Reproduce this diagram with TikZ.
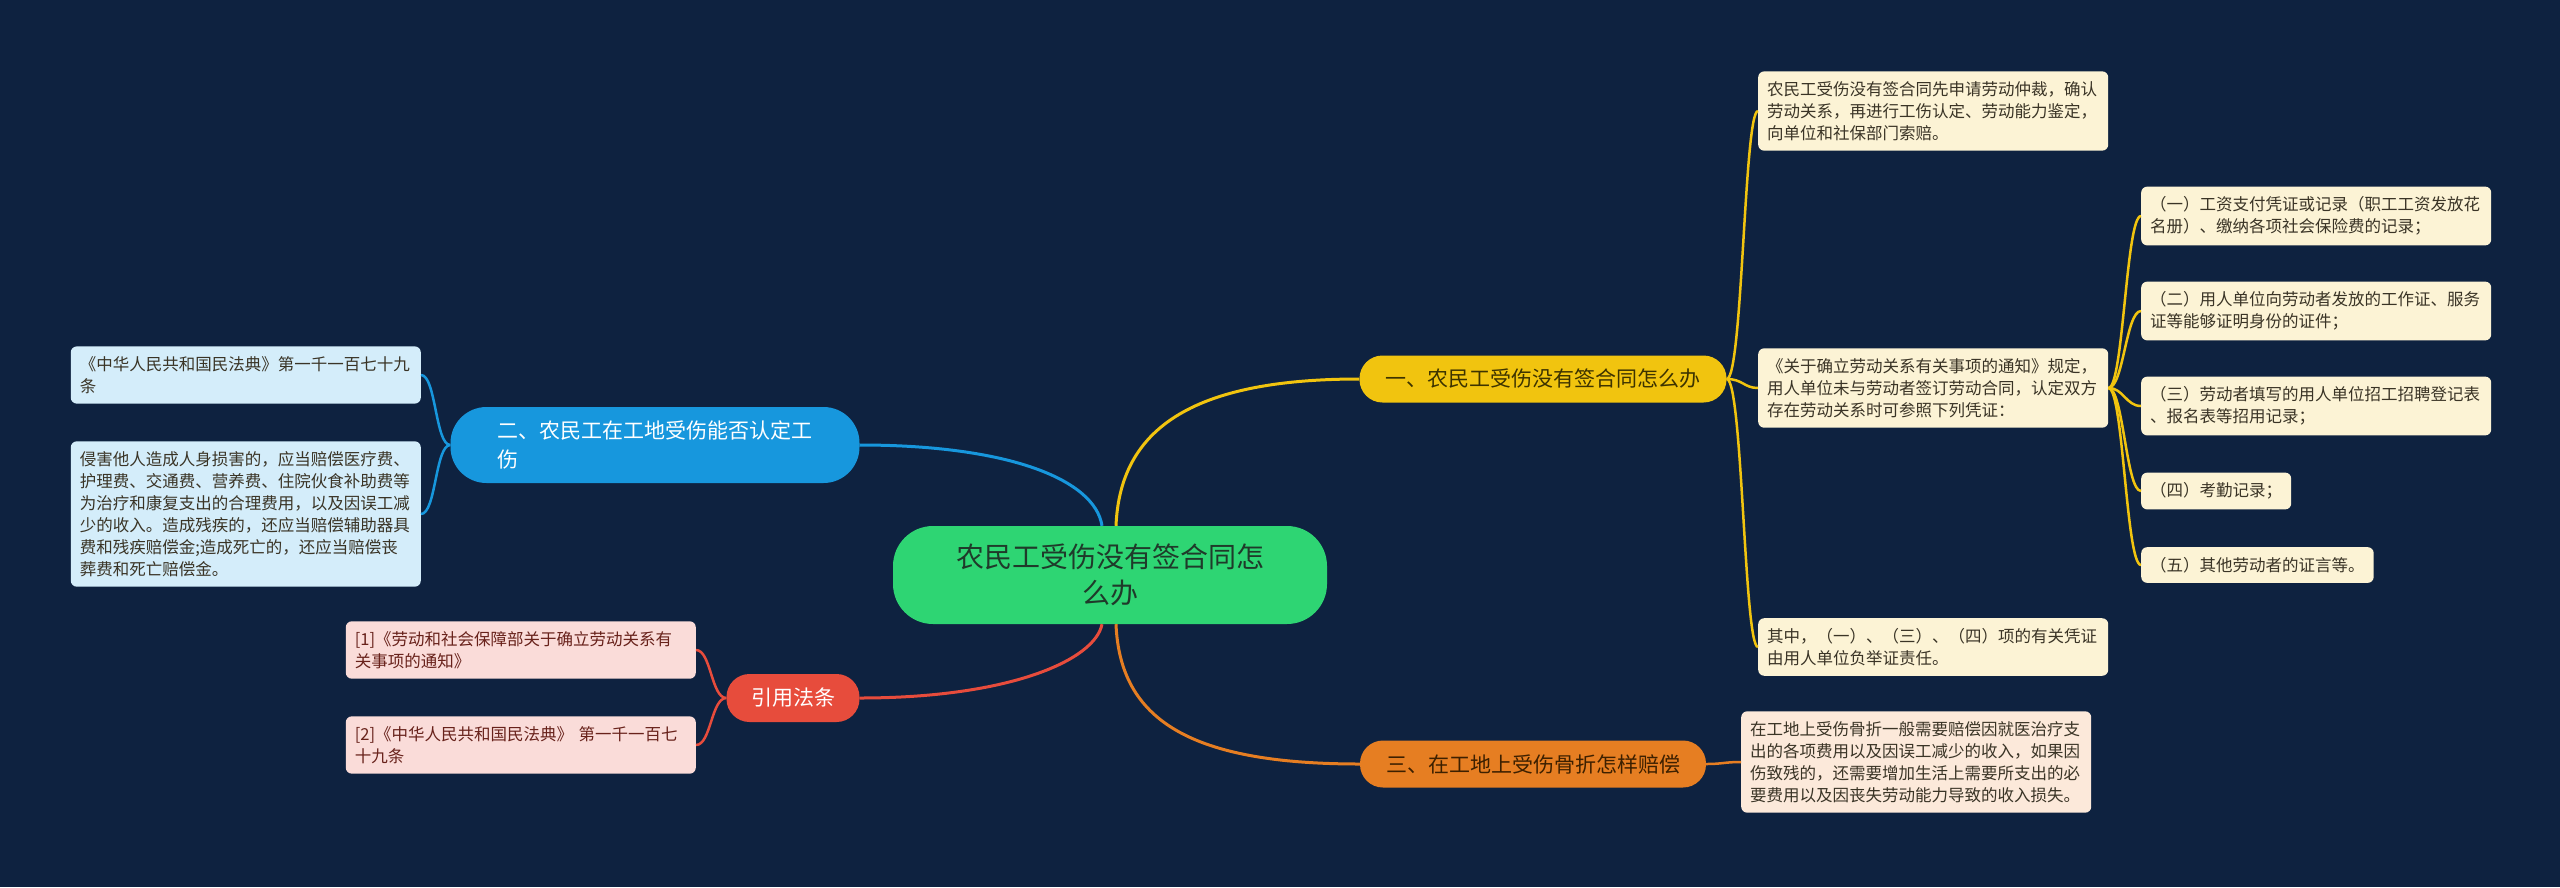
\documentclass[tikz,border=0pt]{standalone}
\usepackage{fontspec}
\setmainfont{Noto Sans CJK SC}
\usepackage{xcolor}
\usetikzlibrary{positioning}

\definecolor{bgnavy}{HTML}{0E2240}
\definecolor{rootgreen}{HTML}{2ED573}
\definecolor{roottext}{HTML}{1F3A2A}
\definecolor{ylw}{HTML}{F1C40F}
\definecolor{ylwtext}{HTML}{3D3300}
\definecolor{ylwleaf}{HTML}{FCF3D5}
\definecolor{org}{HTML}{E67E22}
\definecolor{orgtext}{HTML}{3D2000}
\definecolor{orgleaf}{HTML}{FCE9DA}
\definecolor{blu}{HTML}{1797DD}
\definecolor{bluleaf}{HTML}{D4EDFA}
\definecolor{redbr}{HTML}{E74C3C}
\definecolor{redleaf}{HTML}{FADCD9}
\definecolor{leaftext}{HTML}{3A3426}

\begin{document}
\begin{tikzpicture}[
    x=1pt, y=-1pt,
    topic/.style={rounded corners=40pt, fill=rootgreen, text=roottext, minimum width=434pt,
        minimum height=98pt, align=center, font=\fontsize{28}{36}\selectfont},
    branch/.style={rounded corners=23pt, minimum height=47pt, align=center,
        font=\fontsize{21}{29}\selectfont},
    leaf/.style={rounded corners=6pt, align=left, inner xsep=9pt, inner ysep=10pt,
        text=leaftext, font=\fontsize{16.5}{22}\selectfont},
    wide/.style={text width=332pt},
    link/.style={line width=3pt},
    twig/.style={line width=2.5pt}
]
    \fill[bgnavy] (0,0) rectangle (2560,887);
    \useasboundingbox (0,0) rectangle (2560,887);

    \node[topic] (root) at (1110,575) {农民工受伤没有签合同怎\\么办};

    \node[branch, fill=ylw, text=ylwtext, minimum width=367pt] (yb) at (1543,379) {一、农民工受伤没有签合同怎么办};
    \node[branch, fill=org, text=orgtext, minimum width=346pt] (ob) at (1533,764) {三、在工地上受伤骨折怎样赔偿};
    \node[branch, fill=blu, text=white, minimum width=409pt, minimum height=76pt, rounded corners=36pt,
        text width=315pt, align=left] (bb) at (655,445) {二、农民工在工地受伤能否认定工\\伤};
    \node[branch, fill=redbr, text=white, minimum width=133pt, minimum height=48pt] (rb) at (793,698) {引用法条};

    \node[leaf, wide, fill=ylwleaf, anchor=west] (y1) at (1758,111) {农民工受伤没有签合同先申请劳动仲裁，确认\\劳动关系，再进行工伤认定、劳动能力鉴定，\\向单位和社保部门索赔。};
    \node[leaf, wide, fill=ylwleaf, anchor=west] (y2) at (1758,388) {《关于确立劳动关系有关事项的通知》规定，\\用人单位未与劳动者签订劳动合同，认定双方\\存在劳动关系时可参照下列凭证：};
    \node[leaf, wide, fill=ylwleaf, anchor=west] (y3) at (1758,647) {其中，（一）、（三）、（四）项的有关凭证\\由用人单位负举证责任。};

    \node[leaf, wide, fill=ylwleaf, anchor=west] (s1) at (2141,216) {（一）工资支付凭证或记录（职工工资发放花\\名册）、缴纳各项社会保险费的记录；};
    \node[leaf, wide, fill=ylwleaf, anchor=west] (s2) at (2141,311) {（二）用人单位向劳动者发放的工作证、服务\\证等能够证明身份的证件；};
    \node[leaf, wide, fill=ylwleaf, anchor=west] (s3) at (2141,406) {（三）劳动者填写的用人单位招工招聘登记表\\、报名表等招用记录；};
    \node[leaf, fill=ylwleaf, anchor=west] (s4) at (2141,491) {（四）考勤记录；};
    \node[leaf, fill=ylwleaf, anchor=west] (s5) at (2141,565) {（五）其他劳动者的证言等。};

    \node[leaf, wide, fill=orgleaf, anchor=west] (o1) at (1741,762) {在工地上受伤骨折一般需要赔偿因就医治疗支\\出的各项费用以及因误工减少的收入，如果因\\伤致残的，还需要增加生活上需要所支出的必\\要费用以及因丧失劳动能力导致的收入损失。};

    \node[leaf, wide, fill=bluleaf, anchor=east] (b1) at (421,375) {《中华人民共和国民法典》第一千一百七十九\\条};
    \node[leaf, wide, fill=bluleaf, anchor=east] (b2) at (421,514) {侵害他人造成人身损害的，应当赔偿医疗费、\\护理费、交通费、营养费、住院伙食补助费等\\为治疗和康复支出的合理费用，以及因误工减\\少的收入。造成残疾的，还应当赔偿辅助器具\\费和残疾赔偿金;造成死亡的，还应当赔偿丧\\葬费和死亡赔偿金。};

    \node[leaf, wide, fill=redleaf, text=redbr!45!black, anchor=east] (r1) at (696,650) {[1]《劳动和社会保障部关于确立劳动关系有\\关事项的通知》};
    \node[leaf, wide, fill=redleaf, text=redbr!45!black, anchor=east] (r2) at (696,745) {[2]《中华人民共和国民法典》 第一千一百七\\十九条};

    \draw[link, ylw] ([xshift=6pt]root.north) .. controls (1120,430) and (1190,379) .. (yb.west);
    \draw[link, org] ([xshift=6pt]root.south) .. controls (1120,720) and (1190,764) .. (ob.west);
    \draw[link, blu] ([xshift=-8pt]root.north) .. controls (1095,480) and (1010,445) .. (bb.east);
    \draw[link, redbr] ([xshift=-8pt]root.south) .. controls (1095,660) and (1010,698) .. (rb.east);

    \draw[twig, ylw] (yb.east) .. controls ([xshift=16pt]yb.east) and ([xshift=-14pt]y1.west) .. (y1.west);
    \draw[twig, ylw] (yb.east) .. controls ([xshift=16pt]yb.east) and ([xshift=-14pt]y2.west) .. (y2.west);
    \draw[twig, ylw] (yb.east) .. controls ([xshift=16pt]yb.east) and ([xshift=-14pt]y3.west) .. (y3.west);

    \draw[twig, ylw] (y2.east) .. controls ([xshift=15pt]y2.east) and ([xshift=-15pt]s1.west) .. (s1.west);
    \draw[twig, ylw] (y2.east) .. controls ([xshift=15pt]y2.east) and ([xshift=-15pt]s2.west) .. (s2.west);
    \draw[twig, ylw] (y2.east) .. controls ([xshift=15pt]y2.east) and ([xshift=-15pt]s3.west) .. (s3.west);
    \draw[twig, ylw] (y2.east) .. controls ([xshift=15pt]y2.east) and ([xshift=-15pt]s4.west) .. (s4.west);
    \draw[twig, ylw] (y2.east) .. controls ([xshift=15pt]y2.east) and ([xshift=-15pt]s5.west) .. (s5.west);

    \draw[twig, org] (ob.east) .. controls ([xshift=17pt]ob.east) and ([xshift=-17pt]o1.west) .. (o1.west);

    \draw[twig, blu] (bb.west) .. controls ([xshift=-15pt]bb.west) and ([xshift=15pt]b1.east) .. (b1.east);
    \draw[twig, blu] (bb.west) .. controls ([xshift=-15pt]bb.west) and ([xshift=15pt]b2.east) .. (b2.east);

    \draw[twig, redbr] (rb.west) .. controls ([xshift=-15pt]rb.west) and ([xshift=15pt]r1.east) .. (r1.east);
    \draw[twig, redbr] (rb.west) .. controls ([xshift=-15pt]rb.west) and ([xshift=15pt]r2.east) .. (r2.east);
\end{tikzpicture}
\end{document}
